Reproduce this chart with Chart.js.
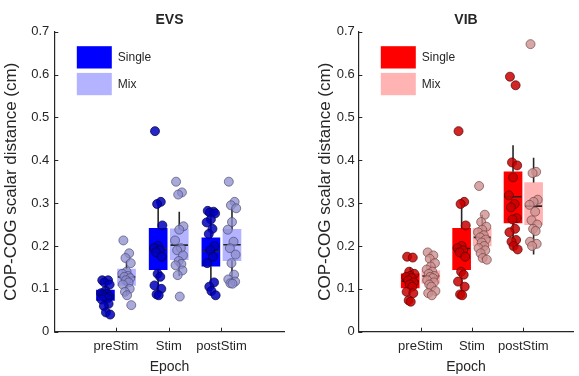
<!DOCTYPE html>
<html>
<head>
<meta charset="utf-8">
<script src="https://cdn.jsdelivr.net/npm/chart.js@4.4.0/dist/chart.umd.min.js"></script>
<style>
  body { margin: 0; background: #fff; }
  #wrap { position: relative; width: 579px; height: 376px; overflow: hidden; }
  canvas { position: absolute; top: 0; }
</style>
</head>
<body>
<div id="wrap">
  <canvas id="evs" width="290" height="376" style="left:0"></canvas>
  <canvas id="vib" width="289" height="376" style="left:290px"></canvas>
</div>
<script>
// categories and ticks
const epochs = ['preStim', 'Stim', 'postStim'];
const yTicks = [0, 0.1, 0.2, 0.3, 0.4, 0.5, 0.6, 0.7];

// box stats per epoch: [q1, median, q3, whiskerLow, whiskerHigh]
const evsSingleBox = [[0.073, 0.085, 0.097, 0.045, 0.12], [0.145, 0.194, 0.241, 0.085, 0.30], [0.153, 0.187, 0.219, 0.085, 0.28]];
const evsMixBox = [[0.108, 0.128, 0.146, 0.085, 0.165], [0.168, 0.202, 0.240, 0.13, 0.28], [0.166, 0.203, 0.239, 0.115, 0.29]];
const vibSingleBox = [[0.102, 0.118, 0.135, 0.09, 0.15], [0.145, 0.194, 0.241, 0.085, 0.30], [0.254, 0.315, 0.373, 0.193, 0.435]];
const vibMixBox = [[0.113, 0.13, 0.142, 0.085, 0.185], [0.200, 0.22, 0.241, 0.168, 0.273], [0.25, 0.293, 0.348, 0.18, 0.406]];

// individual subjects per epoch
const evsSinglePts = [
  [0.12, 0.12, 0.115, 0.11, 0.095, 0.09, 0.088, 0.085, 0.082, 0.08, 0.078, 0.075, 0.065, 0.06, 0.045, 0.04],
  [0.468, 0.303, 0.298, 0.248, 0.2, 0.195, 0.19, 0.185, 0.175, 0.135, 0.128, 0.108, 0.1, 0.087, 0.085],
  [0.282, 0.28, 0.278, 0.276, 0.262, 0.255, 0.24, 0.228, 0.2, 0.19, 0.175, 0.16, 0.115, 0.105, 0.095, 0.085]
];
const evsMixPts = [
  [0.213, 0.183, 0.172, 0.16, 0.14, 0.135, 0.13, 0.128, 0.125, 0.12, 0.115, 0.11, 0.1, 0.093, 0.085, 0.062],
  [0.35, 0.325, 0.32, 0.246, 0.238, 0.213, 0.195, 0.19, 0.178, 0.165, 0.158, 0.155, 0.143, 0.132, 0.082],
  [0.35, 0.303, 0.295, 0.288, 0.256, 0.238, 0.21, 0.195, 0.18, 0.16, 0.133, 0.122, 0.117, 0.113, 0.112]
];
const vibSinglePts = [
  [0.175, 0.173, 0.14, 0.135, 0.13, 0.128, 0.125, 0.12, 0.115, 0.11, 0.105, 0.093, 0.09, 0.073, 0.07],
  [0.468, 0.303, 0.298, 0.248, 0.2, 0.195, 0.19, 0.185, 0.175, 0.14, 0.133, 0.117, 0.105, 0.087, 0.085],
  [0.595, 0.575, 0.395, 0.388, 0.36, 0.318, 0.298, 0.29, 0.265, 0.262, 0.24, 0.232, 0.214, 0.21, 0.2, 0.192]
];
const vibMixPts = [
  [0.185, 0.178, 0.17, 0.16, 0.152, 0.145, 0.14, 0.135, 0.13, 0.128, 0.125, 0.12, 0.115, 0.11, 0.105, 0.095, 0.09, 0.085],
  [0.34, 0.273, 0.256, 0.245, 0.238, 0.232, 0.225, 0.22, 0.215, 0.208, 0.2, 0.195, 0.19, 0.183, 0.172, 0.168],
  [0.671, 0.373, 0.37, 0.308, 0.303, 0.296, 0.28, 0.26, 0.25, 0.24, 0.235, 0.21, 0.205, 0.2]
];

// horizontal scatter of the dots (style only)
const jitter = [-0.06, 0.05, -0.02, 0.08, 0.0, -0.08, 0.03, -0.04, 0.07, -0.01, 0.04, -0.07, 0.06, -0.03, 0.01, 0.09, -0.05, 0.02];
const OFFSET = 0.2;   // single left, mix right of the tick
const HALF = 0.165;   // half box width in x units
const INK = '#262626';
const FONT = 'Liberation Sans, Arial, Helvetica, sans-serif';

function boxData(stats, dx) {
  return stats.map((s, i) => ({ x: i + 1 + dx, y: [s[0], s[2]] }));
}
function whiskerData(stats, dx) {
  let out = [];
  stats.forEach((s, i) => {
    let x = i + 1 + dx;
    out.push({ x: x, y: s[3] }, { x: x, y: s[0] }, { x: x, y: null },
             { x: x, y: s[2] }, { x: x, y: s[4] }, { x: x, y: null },
             { x: x - HALF, y: s[1] }, { x: x + HALF, y: s[1] }, { x: x, y: null });
  });
  return out;
}
function pointData(groups, dx) {
  let out = [];
  groups.forEach((g, i) => {
    g.forEach((v, k) => out.push({ x: i + 1 + dx + jitter[k % jitter.length], y: v }));
  });
  return out;
}

// inward tick marks like matlab
const innerTicks = {
  id: 'innerTicks',
  afterDraw(chart) {
    const ctx = chart.ctx, xs = chart.scales.x, ys = chart.scales.y;
    ctx.save();
    ctx.strokeStyle = INK;
    ctx.lineWidth = 1;
    xs.ticks.forEach(t => {
      let px = Math.round(xs.getPixelForValue(t.value)) + 0.5;
      ctx.beginPath(); ctx.moveTo(px, ys.bottom); ctx.lineTo(px, ys.bottom - 4); ctx.stroke();
    });
    ys.ticks.forEach(t => {
      let py = Math.round(ys.getPixelForValue(t.value)) + 0.5;
      ctx.beginPath(); ctx.moveTo(xs.left, py); ctx.lineTo(xs.left + 4, py); ctx.stroke();
    });
    ctx.restore();
  }
};

// legend boxes in the upper left of the axes
const boxLegend = {
  id: 'boxLegend',
  afterDraw(chart, args, opts) {
    const ctx = chart.ctx, a = chart.chartArea;
    ctx.save();
    ctx.font = '12px ' + FONT;
    ctx.textBaseline = 'middle';
    opts.items.forEach((it, i) => {
      let x = a.left + 22.5, y = a.top + 14.5 + i * 26.7;
      ctx.fillStyle = it.color;
      ctx.fillRect(x, y, 35, 22.3);
      ctx.fillStyle = INK;
      ctx.fillText(it.label, x + 41, y + 11.5);
    });
    ctx.restore();
  }
};

function makeChart(id, title, cfg) {
  return new Chart(document.getElementById(id), {
    type: 'scatter',
    data: {
      datasets: [
        { type: 'bar', data: boxData(cfg.singleBox, -OFFSET), backgroundColor: cfg.singleCol, borderWidth: 0, barThickness: 18, grouped: false, order: 3 },
        { type: 'bar', data: boxData(cfg.mixBox, OFFSET), backgroundColor: cfg.mixCol, borderWidth: 0, barThickness: 18, grouped: false, order: 3 },
        { type: 'line', data: whiskerData(cfg.singleBox, -OFFSET), borderColor: INK, borderWidth: 1.6, pointRadius: 0, spanGaps: false, order: 2 },
        { type: 'line', data: whiskerData(cfg.mixBox, OFFSET), borderColor: INK, borderWidth: 1.6, pointRadius: 0, spanGaps: false, order: 2 },
        { data: pointData(cfg.singlePts, -OFFSET), backgroundColor: cfg.singleDot, borderColor: cfg.singleEdge, borderWidth: 0.8, pointRadius: 4.5, order: 1 },
        { data: pointData(cfg.mixPts, OFFSET), backgroundColor: cfg.mixDot, borderColor: cfg.mixEdge, borderWidth: 0.8, pointRadius: 4.5, order: 1 }
      ]
    },
    options: {
      responsive: false,
      animation: false,
      layout: { padding: { left: 0, right: cfg.padRight, top: 0, bottom: 0 } },
      plugins: {
        legend: { display: false },
        tooltip: { enabled: false },
        title: {
          display: true, text: title, fullSize: false, color: INK,
          font: { family: FONT, size: 14, weight: 'bold' },
          padding: { top: 12, bottom: 2.9 }
        },
        boxLegend: { items: [{ label: 'Single', color: cfg.singleCol }, { label: 'Mix', color: cfg.mixCol }] }
      },
      scales: {
        x: {
          type: 'linear', min: cfg.xMin, max: cfg.xMax, offset: false,
          grid: { display: false, drawTicks: false, offset: false },
          border: { display: true, color: INK, width: 1.2 },
          afterBuildTicks: s => { s.ticks = epochs.map((e, i) => ({ value: i + 1 })); },
          afterFit: s => { s.height = 44.3; },
          ticks: { color: INK, padding: 7, font: { family: FONT, size: 13 }, maxRotation: 0, callback: v => epochs[v - 1] },
          title: { display: true, text: 'Epoch', color: INK, font: { family: FONT, size: 14 }, padding: { top: 0, bottom: 0 } }
        },
        y: {
          min: 0, max: 0.7,
          grid: { display: false, drawTicks: false },
          border: { display: true, color: INK, width: 1.2 },
          afterBuildTicks: s => { s.ticks = yTicks.map(v => ({ value: v })); },
          afterFit: s => { s.width = cfg.yWidth; },
          ticks: { color: INK, padding: cfg.tickPad, font: { family: FONT, size: 13 }, callback: v => v === 0 ? '0' : v.toFixed(1) },
          title: { display: true, text: 'COP-COG scalar distance (cm)', color: INK, font: { family: FONT, size: 17 }, padding: { top: cfg.titlePad, bottom: 0 } }
        }
      }
    },
    plugins: [innerTicks, boxLegend]
  });
}

makeChart('evs', 'EVS', {
  singleBox: evsSingleBox, mixBox: evsMixBox, singlePts: evsSinglePts, mixPts: evsMixPts,
  singleCol: '#0000ff', mixCol: '#b3b3ff',
  singleDot: 'rgba(0, 0, 190, 0.85)', singleEdge: 'rgba(0, 0, 70, 0.9)',
  mixDot: 'rgba(140, 140, 205, 0.75)', mixEdge: 'rgba(70, 70, 110, 0.8)',
  xMin: -0.17, xMax: 4.2, yWidth: 54.3, padRight: 3, tickPad: 5, titlePad: 1.5
});

makeChart('vib', 'VIB', {
  singleBox: vibSingleBox, mixBox: vibMixBox, singlePts: vibSinglePts, mixPts: vibMixPts,
  singleCol: '#ff0000', mixCol: '#ffb3b3',
  singleDot: 'rgba(200, 0, 0, 0.85)', singleEdge: 'rgba(90, 0, 0, 0.9)',
  mixDot: 'rgba(205, 145, 145, 0.8)', mixEdge: 'rgba(110, 60, 60, 0.8)',
  xMin: -0.21, xMax: 3.98, yWidth: 68.3, padRight: 0, tickPad: 3.5, titlePad: 25.5
});
</script>
</body>
</html>
